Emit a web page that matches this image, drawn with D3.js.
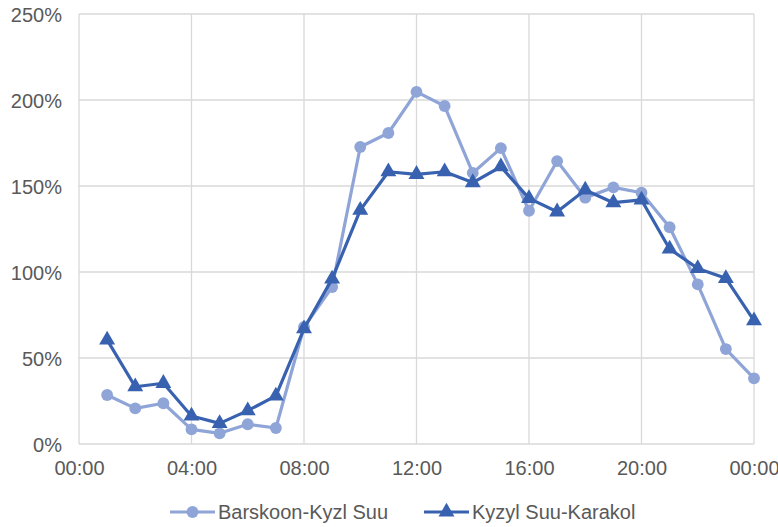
<!DOCTYPE html>
<html>
<head>
<meta charset="utf-8">
<script src="https://cdn.jsdelivr.net/npm/d3@7"></script>
<style>
  html, body { margin: 0; padding: 0; background: #fff; }
  svg text { font-family: "Liberation Sans", Arial, sans-serif; fill: #595959; }
</style>
</head>
<body>
<svg id="chart" width="778" height="527"></svg>
<script>
// Hour of day for each observation (1..24)
const hours = [1,2,3,4,5,6,7,8,9,10,11,12,13,14,15,16,17,18,19,20,21,22,23,24];

// Hourly load, percent
const barskoon = [28.5,20.7,23.7,8.5,6.2,11.5,9.3,68,91.3,172.7,180.8,204.7,196.5,157.6,172,135.6,164.5,143.2,149.2,146.1,126,92.8,55.2,38.2];
const kyzylSuu = [60.5,33.3,35.3,16.3,12,19.4,28,67,96,136,158.3,156.8,158.3,152,161.2,142.8,135,147.7,140.3,141.9,113.4,102.1,96.3,71.7];

const seriesNames = ["Barskoon-Kyzl Suu", "Kyzyl Suu-Karakol"];
const xTicks = [0,4,8,12,16,20,24];
const xTickLabels = ["00:00","04:00","08:00","12:00","16:00","20:00","00:00"];
const yTicks = [0,50,100,150,200,250];

const colors = ["#8FA4D7", "#3862AF"];
const fontSize = "20px";

const svg = d3.select("#chart");
const m = { left: 79, right: 754, top: 14, bottom: 444 };

const x = d3.scaleLinear().domain([0, 24]).range([m.left, m.right]);
const y = d3.scaleLinear().domain([0, 250]).range([m.bottom, m.top]);

// Grid
const grid = svg.append("g");
grid.selectAll("line.h").data(yTicks).join("line")
  .attr("x1", m.left).attr("x2", m.right)
  .attr("y1", d => y(d)).attr("y2", d => y(d))
  .attr("stroke", "#d9d9d9").attr("stroke-width", 1.3);
grid.selectAll("line.v").data(xTicks).join("line")
  .attr("x1", d => x(d)).attr("x2", d => x(d))
  .attr("y1", m.top).attr("y2", m.bottom)
  .attr("stroke", "#d9d9d9").attr("stroke-width", 1.3);

// Axes labels
const yAxis = d3.axisLeft(y).tickValues(yTicks).tickFormat(d => d + "%").tickSize(0).tickPadding(17);
const gy = svg.append("g").attr("transform", `translate(${m.left},0)`).call(yAxis);
gy.select(".domain").remove();
gy.selectAll("text").style("font-size", fontSize).attr("dy", "0.35em");

const xAxis = d3.axisBottom(x).tickValues(xTicks).tickFormat((d, i) => xTickLabels[i]).tickSize(0).tickPadding(17);
const gx = svg.append("g").attr("transform", `translate(0,${m.bottom})`).call(xAxis);
gx.select(".domain").remove();
gx.selectAll("text").style("font-size", fontSize);

// Series
const seriesData = [barskoon, kyzylSuu];
const line = d3.line().x((d, i) => x(hours[i])).y(d => y(d));
const circleSym = d3.symbol().type(d3.symbolCircle).size(110);
const triSym = d3.symbol().type(d3.symbolTriangle).size(110);

seriesData.forEach((vals, s) => {
  const g = svg.append("g");
  g.append("path").datum(vals)
    .attr("d", line)
    .attr("fill", "none")
    .attr("stroke", colors[s])
    .attr("stroke-width", 3.2)
    .attr("stroke-linejoin", "round");
  g.selectAll("path.mk").data(vals).join("path")
    .attr("class", "mk")
    .attr("transform", (d, i) => `translate(${x(hours[i])},${y(d)})`)
    .attr("d", s === 0 ? circleSym() : triSym())
    .attr("fill", colors[s]);
});

// Legend
const legend = [
  { name: seriesNames[0], x0: 170, sym: circleSym },
  { name: seriesNames[1], x0: 424, sym: triSym }
];
const ly = 512;
legend.forEach((l, s) => {
  const g = svg.append("g");
  g.append("line").attr("x1", l.x0).attr("x2", l.x0 + 45)
    .attr("y1", ly).attr("y2", ly)
    .attr("stroke", colors[s]).attr("stroke-width", 3.2);
  g.append("path").attr("transform", `translate(${l.x0 + 22.5},${ly})`)
    .attr("d", l.sym()).attr("fill", colors[s]);
  g.append("text").attr("x", l.x0 + 48).attr("y", ly).attr("dy", "0.35em")
    .style("font-size", fontSize).text(l.name);
});
</script>
</body>
</html>
